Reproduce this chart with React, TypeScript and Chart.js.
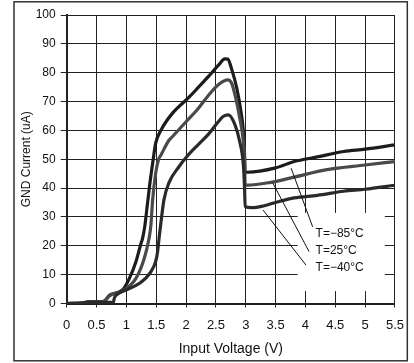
import React, { useEffect, useRef } from "react";
import { Chart, registerables } from "chart.js";

Chart.register(...registerables);

// T = 85°C (labelled "T=−85°C" in the source)
const hotX = [0, 0.25, 0.35, 0.6, 0.64, 0.72, 0.94, 1.05, 1.16, 1.24, 1.27, 1.31, 1.35, 1.39, 1.44, 1.49, 1.58, 1.77, 2.05, 2.2, 2.38, 2.55, 2.65, 2.7, 2.76, 2.85, 2.92, 2.96, 2.98, 2.99, 3.03, 3.5, 3.81, 4.2, 4.64, 5.0, 5.5];
const hotY = [0, 0.1, 0.6, 0.7, 1.0, 2.9, 4.8, 8.7, 14.5, 20.5, 22.5, 27, 34, 41, 48.6, 55.5, 60.1, 65.9, 71.5, 74.8, 78.8, 82.8, 84.8, 84.7, 81.5, 74.6, 66.5, 59.6, 51.5, 45.5, 45.5, 47, 49.2, 50.8, 52.7, 53.5, 55];

// T = 25°C
const roomX = [0, 0.25, 0.35, 0.6, 0.64, 0.72, 0.94, 1.16, 1.3, 1.38, 1.41, 1.44, 1.49, 1.54, 1.58, 1.71, 1.77, 2.0, 2.2, 2.38, 2.55, 2.7, 2.76, 2.82, 2.9, 2.96, 2.98, 2.99, 3.03, 3.42, 3.81, 4.36, 5.0, 5.5];
const roomY = [0, 0.1, 0.5, 0.6, 0.9, 2.7, 4.4, 8.7, 15.7, 22.6, 27, 35.9, 45.1, 50, 51.5, 56.5, 57.8, 63, 67.5, 72.3, 76, 77.5, 76.5, 72.3, 64.2, 56, 49, 41, 41, 42, 43.8, 46.4, 48, 49.2];

// T = −40°C
const coldX = [0, 0.25, 0.35, 0.78, 0.8, 0.85, 0.94, 1.22, 1.41, 1.49, 1.52, 1.55, 1.59, 1.63, 1.71, 1.88, 2.05, 2.2, 2.38, 2.54, 2.62, 2.71, 2.82, 2.9, 2.96, 2.98, 2.99, 3.1, 3.31, 3.5, 3.81, 4.2, 4.64, 5.0, 5.5];
const coldY = [0, 0.1, 0.4, 0.4, 2.0, 3.2, 4.2, 7, 11, 14.5, 17.5, 23, 30, 36, 41.7, 47.4, 51.8, 55, 58.8, 63, 64.8, 65.4, 61.9, 56, 48, 40, 33.5, 33.2, 33.9, 35, 36.6, 37.5, 38.9, 39.6, 41];

const seriesLabels = ["T=\u221285\u00b0C", "T=25\u00b0C", "T=\u221240\u00b0C"];
const seriesColors = ["#1c1c1c", "#4a4a4a", "#2a2a2a"];

// annotation geometry in data units
const labelAnchors = [
  [4.17, 23.15],
  [4.17, 17.16],
  [4.17, 11.37],
];
const leaderLines = [
  [3.76, 46.9, 4.12, 26.6],
  [3.45, 41.9, 4.06, 18.0],
  [3.29, 32.4, 4.01, 13.3],
];
const labelBox = [3.87, 31.4, 5.33, 4.3];

const xTitle = "Input Voltage (V)";
const yTitle = "GND Current (uA)";

const FONT = "'Liberation Sans', Arial, Helvetica, sans-serif";

const toPoints = (xs: number[], ys: number[]) => xs.map((x, i) => ({ x, y: ys[i] }));

const annotPlugin = {
  id: "annot",
  beforeDraw(chart: any) {
    const ctx = chart.ctx;
    ctx.save();
    ctx.strokeStyle = "#333";
    ctx.lineWidth = 1.5;
    ctx.strokeRect(14, 1.8, 393.3, 359);
    ctx.restore();
  },
  beforeDatasetsDraw(chart: any) {
    const { ctx, scales } = chart;
    const x = scales.x, y = scales.y;
    const x1 = x.getPixelForValue(labelBox[0]);
    const y1 = y.getPixelForValue(labelBox[1]);
    const x2 = x.getPixelForValue(labelBox[2]);
    const y2 = y.getPixelForValue(labelBox[3]);
    ctx.save();
    ctx.fillStyle = "#ffffff";
    ctx.fillRect(x1, y1, x2 - x1, y2 - y1);
    ctx.restore();
  },
  afterDatasetsDraw(chart: any) {
    const { ctx, scales } = chart;
    const x = scales.x, y = scales.y;
    ctx.save();
    ctx.strokeStyle = "#111";
    ctx.lineWidth = 1;
    leaderLines.forEach((l) => {
      ctx.beginPath();
      ctx.moveTo(x.getPixelForValue(l[0]), y.getPixelForValue(l[1]));
      ctx.lineTo(x.getPixelForValue(l[2]), y.getPixelForValue(l[3]));
      ctx.stroke();
    });
    ctx.fillStyle = "#111";
    ctx.font = `12px ${FONT}`;
    ctx.textAlign = "left";
    ctx.textBaseline = "alphabetic";
    seriesLabels.forEach((t, i) => {
      ctx.fillText(t, x.getPixelForValue(labelAnchors[i][0]), y.getPixelForValue(labelAnchors[i][1]));
    });
    ctx.restore();
  },
};

export default function App() {
  const ref = useRef<HTMLCanvasElement | null>(null);

  useEffect(() => {
    document.body.style.margin = "0";
    const canvas = ref.current;
    if (!canvas) return;
    const mk = (xs: number[], ys: number[], i: number) => ({
      label: seriesLabels[i],
      data: toPoints(xs, ys),
      borderColor: seriesColors[i],
      backgroundColor: seriesColors[i],
      borderWidth: 3.2,
      pointRadius: 0,
      cubicInterpolationMode: "monotone" as const,
      borderJoinStyle: "round" as const,
      borderCapStyle: "round" as const,
      fill: false,
    });
    const chart = new Chart(canvas, {
      type: "line",
      data: {
        datasets: [mk(coldX, coldY, 2), mk(roomX, roomY, 1), mk(hotX, hotY, 0)],
      },
      options: {
        animation: false,
        responsive: false,
        maintainAspectRatio: false,
        devicePixelRatio: 1,
        layout: { padding: { top: 15, right: 15.6, bottom: 0, left: 0 } },
        plugins: {
          legend: { display: false },
          tooltip: { enabled: false },
        },
        scales: {
          x: {
            type: "linear",
            min: 0,
            max: 5.5,
            afterFit: (s: any) => {
              s.height = 59.5;
            },
            grid: { color: "#222", lineWidth: 1, tickLength: 4, drawTicks: true },
            border: { display: true, color: "#222", width: 2 },
            ticks: {
              stepSize: 0.5,
              padding: 10,
              color: "#111",
              font: { family: FONT, size: 13 },
              maxRotation: 0,
              autoSkip: false,
              callback: (v: any) => String(Math.round(Number(v) * 10) / 10),
            },
            title: {
              display: true,
              text: xTitle,
              color: "#111",
              font: { family: FONT, size: 14 },
              padding: { top: 0, bottom: 5.6 },
            },
          },
          y: {
            type: "linear",
            min: 0,
            max: 100,
            afterFit: (s: any) => {
              s.width = 66.7;
            },
            grid: { color: "#222", lineWidth: 1, tickLength: 6, drawTicks: true },
            border: { display: true, color: "#222", width: 2 },
            ticks: {
              stepSize: 10,
              padding: 5,
              color: "#111",
              font: { family: FONT, size: 12 },
            },
            title: {
              display: true,
              text: yTitle,
              color: "#111",
              font: { family: FONT, size: 12 },
              padding: { top: 19.3, bottom: 0 },
            },
          },
        },
      },
      plugins: [annotPlugin],
    });
    return () => chart.destroy();
  }, []);

  return <canvas ref={ref} width={414} height={363} style={{ display: "block", width: 414, height: 363 }} />;
}
